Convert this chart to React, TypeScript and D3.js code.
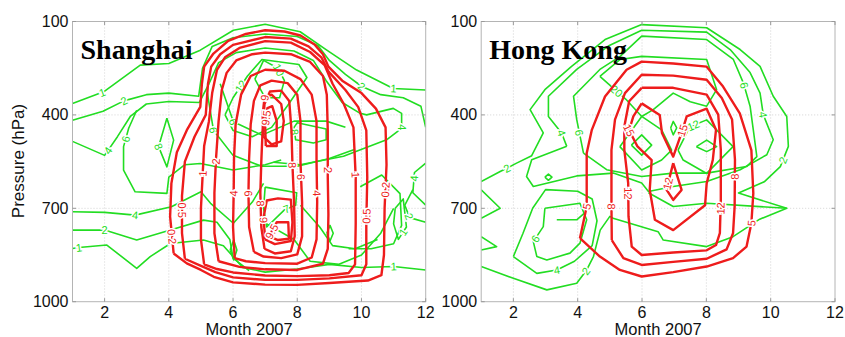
import React from 'react';
import * as d3 from 'd3';

type Pt = [number, number];
interface Contour { level: string; pts: Pt[]; labels?: Pt[] }

const monthTicks = [2, 4, 6, 8, 10, 12];
const pressureTicks = [100, 400, 700, 1000];
const gridMonths = [2, 4, 6, 8, 10];
const gridPressures = [400, 700];

// Shanghai: red contour lines (month, hPa)
const shanghaiRed: Contour[] = [
  { level: '0.2', labels: [[4.2, 790], [10.7, 640]], pts: [[4.15, 845], [4.04, 727], [4.08, 620], [4.25, 520], [4.56, 449], [4.98, 374], [5.03, 300], [5.1, 245], [5.39, 203], [5.85, 162], [6.4, 140], [7.0, 128], [7.6, 132], [8.1, 145], [8.55, 175], [8.8, 205], [8.97, 245], [9.4, 290], [10.0, 330], [10.45, 380], [10.75, 440], [10.78, 560], [10.72, 700], [10.7, 850], [10.62, 915], [10.2, 932], [9.0, 940], [8.0, 946], [7.0, 945], [6.0, 938], [5.4, 920], [5.0, 898], [4.56, 877], [4.15, 845]] },
  { level: '0.5', labels: [[4.41, 706], [10.16, 725]], pts: [[4.5, 862], [4.41, 780], [4.41, 660], [4.5, 550], [4.8, 470], [5.15, 400], [5.22, 300], [5.32, 245], [5.6, 205], [6.0, 175], [7.0, 150], [7.8, 155], [8.35, 180], [8.75, 215], [8.98, 262], [9.5, 320], [9.9, 375], [10.15, 450], [10.18, 600], [10.15, 750], [10.15, 880], [10.0, 915], [9.0, 925], [8.0, 930], [7.0, 930], [6.0, 922], [5.45, 905], [5.0, 885], [4.5, 862]] },
  { level: '1', labels: [[5.05, 588], [9.82, 593]], pts: [[5.1, 880], [5.0, 800], [5.0, 700], [5.05, 600], [5.1, 500], [5.25, 420], [5.35, 330], [5.5, 255], [5.75, 215], [6.2, 185], [7.0, 163], [7.8, 168], [8.4, 198], [8.85, 240], [9.1, 300], [9.45, 365], [9.75, 440], [9.82, 600], [9.82, 750], [9.8, 880], [9.6, 908], [9.0, 915], [8.0, 918], [7.0, 916], [6.0, 906], [5.5, 895], [5.1, 880]] },
  { level: '2', labels: [[5.46, 550], [8.95, 577]], pts: [[5.55, 870], [5.42, 780], [5.42, 650], [5.47, 540], [5.55, 420], [5.65, 320], [5.8, 265], [6.1, 225], [6.6, 205], [7.0, 200], [7.8, 205], [8.4, 230], [8.8, 275], [8.92, 335], [8.95, 450], [8.95, 600], [8.97, 720], [8.95, 830], [8.8, 878], [8.0, 898], [7.0, 896], [6.2, 888], [5.55, 870]] },
  { level: '4', labels: [[6.05, 652], [8.6, 652]], pts: [[6.05, 860], [6.0, 760], [6.02, 650], [6.03, 540], [6.08, 430], [6.25, 335], [6.55, 275], [7.0, 255], [7.6, 258], [8.1, 285], [8.45, 335], [8.6, 420], [8.6, 550], [8.62, 680], [8.6, 800], [8.45, 858], [8.0, 878], [7.0, 876], [6.4, 870], [6.05, 860]] },
  { level: '6', labels: [[6.5, 652], [8.08, 599]], pts: [[6.65, 840], [6.5, 760], [6.48, 650], [6.5, 540], [6.55, 430], [6.65, 355], [6.85, 305], [7.2, 290], [7.7, 298], [8.0, 335], [8.1, 420], [8.1, 550], [8.15, 680], [8.15, 790], [8.0, 848], [7.5, 860], [6.95, 855], [6.65, 840]] },
  { level: '8', labels: [[6.92, 684], [7.85, 561]], pts: [[6.98, 830], [6.88, 760], [6.85, 650], [6.88, 550], [6.92, 450], [6.98, 365], [7.15, 325], [7.5, 322], [7.75, 355], [7.82, 450], [7.85, 560], [7.9, 680], [7.92, 790], [7.8, 838], [7.3, 845], [6.98, 830]] },
  { level: '9', labels: [[6.95, 345]], pts: [[6.95, 470], [6.92, 400], [6.98, 345], [7.2, 335], [7.5, 365], [7.58, 420], [7.5, 485], [7.2, 495], [6.95, 470]] },
  { level: '9', labels: [[6.95, 738]], pts: [[7.0, 800], [6.95, 730], [7.05, 675], [7.4, 668], [7.8, 672], [7.85, 745], [7.8, 805], [7.3, 815], [7.0, 800]] },
  { level: '9.5', labels: [[7.05, 410]], pts: [[7.02, 500], [7.0, 430], [7.07, 378], [7.22, 372], [7.36, 420], [7.36, 500], [7.02, 500]] },
  { level: '9.5', labels: [[7.12, 770]], pts: [[7.12, 790], [7.36, 745], [7.72, 745], [7.74, 798], [7.4, 802], [7.12, 790]] },
];

// Shanghai: green contour lines (month, hPa)
const shanghaiGreen: Contour[] = [
  { level: '1', labels: [[1.92, 326], [11.0, 315]], pts: [[1, 363], [1.97, 326], [3.11, 240], [4.0, 235], [4.98, 192], [6.01, 128], [7.0, 109], [8.09, 133], [8.92, 192], [9.85, 256], [10.99, 315], [12, 320]] },
  { level: '2', labels: [[2.6, 355], [10.0, 308]], pts: [[1, 417], [1.95, 388], [2.6, 355], [3.3, 335], [4.0, 330], [4.93, 340], [5.05, 250], [5.35, 180], [6.0, 152], [7.0, 140], [8.0, 148], [8.65, 178], [9.0, 225], [9.5, 270], [10.0, 308], [10.6, 335], [11.3, 345], [11.85, 372], [12, 440]] },
  { level: '4', labels: [[2.05, 510], [11.2, 440]], pts: [[1, 485], [2.0, 530], [2.4, 470], [2.8, 405], [3.3, 365], [4.0, 357], [4.95, 360], [5.25, 300], [5.55, 232], [6.1, 200], [7.0, 185], [7.9, 195], [8.5, 225], [8.9, 290], [9.4, 360], [9.96, 395], [10.16, 400], [10.99, 379], [11.25, 395], [11.25, 443], [10.78, 480], [9.44, 533], [8.09, 560], [7.26, 552]] },
  { level: '6', labels: [[2.75, 480]], pts: [[3.0, 385], [2.75, 443], [2.59, 502], [2.59, 577], [2.95, 647], [3.94, 652], [4.0, 600], [4.5, 560], [4.98, 556], [6.0, 577], [7.0, 560], [7.5, 545]] },
  { level: '8', labels: [[3.68, 502]], pts: [[3.94, 411], [4.15, 481], [3.94, 567], [3.68, 502], [3.94, 411]] },
  { level: '12', labels: [[6.27, 310]], pts: [[5.75, 400], [6.0, 345], [6.45, 275], [6.9, 222], [8.05, 238], [8.3, 280], [7.7, 370], [7.2, 440], [6.6, 470], [6.0, 450], [5.75, 400]] },
  { level: '10', labels: [[7.3, 262]], pts: [[6.68, 285], [6.95, 225], [7.4, 250], [7.6, 290], [7.45, 345], [7.0, 345], [6.68, 285]] },
  { level: '6', labels: [[5.39, 449]], pts: [[5.2, 330], [5.39, 449], [6.0, 530], [6.9, 565], [8.0, 565], [9.0, 540], [9.8, 510]] },
  { level: '6', labels: [[6.01, 422]], pts: [[5.6, 300], [6.01, 422], [6.9, 465], [7.9, 420], [8.9, 420], [9.5, 440]] },
  { level: '8', labels: [[7.98, 454]], pts: [[7.9, 440], [8.0, 425], [8.9, 445], [8.9, 480], [8.5, 490], [7.95, 480], [7.9, 440]] },
  { level: '4', labels: [[2.95, 722]], pts: [[1, 711], [2.0, 713], [2.95, 722], [4.08, 695], [5.0, 647], [5.3, 684], [6.01, 748], [6.6, 680], [6.95, 620]] },
  { level: '2', labels: [[2.0, 770]], pts: [[1, 770], [2.0, 770], [3.0, 802], [4.05, 770], [5.08, 738], [5.5, 745], [5.9, 800], [6.0, 860], [6.5, 900]] },
  { level: '1', labels: [[1.2, 826], [11.0, 887]], pts: [[1, 829], [1.2, 826], [2.07, 818], [3.0, 893], [3.42, 855], [4.05, 813], [5.08, 802], [5.7, 820], [6.3, 890], [7.0, 905], [8.0, 895], [9.0, 880], [10.0, 890], [11.0, 887], [12, 898]] },
  { level: '7', labels: [[7.67, 703]], pts: [[7.0, 632], [7.98, 650], [7.95, 690], [7.6, 705], [7.05, 760], [6.95, 700], [7.0, 632]] },
  { level: '', pts: [[7.05, 750], [7.9, 800], [8.4, 870], [9.3, 880], [10.0, 850], [10.6, 780], [11.0, 700]] },
  { level: '', pts: [[8.1, 690], [8.7, 760], [9.1, 820], [9.8, 830], [10.5, 800]] },
  { level: '', pts: [[9.96, 631], [10.63, 593], [11.2, 653], [11.25, 755], [11.0, 814], [10.3, 830], [9.6, 830]] },
  { level: '', pts: [[5.91, 834], [6.02, 802], [6.12, 834], [6.02, 866], [5.91, 834]] },
  { level: '', pts: [[8.92, 780], [9.02, 755], [9.12, 780], [9.02, 805], [8.92, 780]] },
  { level: '4', labels: [[11.67, 604]], pts: [[12, 555], [11.65, 585], [11.6, 650], [12, 690]] },
  { level: '2', labels: [[11.46, 727]], pts: [[12, 745], [11.5, 730], [11.35, 690], [11.6, 640]] },
  { level: '1', labels: [[11.2, 770]], pts: [[11.05, 700], [11.3, 670], [11.4, 760], [11.15, 800], [11.0, 750], [11.05, 700]] },
];

// Hong Kong: red contour lines (month, hPa)
const hongKongRed: Contour[] = [
  { level: '5', labels: [[4.3, 694], [9.4, 748]], pts: [[4.07, 796], [4.28, 694], [4.28, 523], [4.44, 448], [4.85, 341], [5.52, 255], [5.99, 229], [6.97, 235], [8.01, 245], [8.52, 309], [9.04, 395], [9.4, 513], [9.46, 652], [9.4, 748], [9.25, 823], [8.83, 860], [8.01, 887], [6.97, 905], [5.99, 919], [5.31, 898], [4.69, 855], [4.07, 796]] },
  { level: '8', labels: [[5.05, 694], [8.88, 598]], pts: [[5.06, 802], [5.05, 694], [5.05, 512], [5.16, 415], [5.47, 330], [5.99, 271], [6.97, 274], [8.01, 287], [8.48, 346], [8.8, 415], [8.89, 544], [8.88, 694], [8.83, 780], [8.63, 832], [8.01, 862], [6.97, 872], [5.99, 882], [5.42, 860], [5.06, 802]] },
  { level: '12', labels: [[5.57, 652], [8.42, 700]], pts: [[5.99, 313], [6.97, 313], [8.01, 335], [8.37, 399], [8.45, 512], [8.45, 673], [8.42, 780], [8.3, 818], [8.01, 835], [6.97, 842], [5.99, 850], [5.68, 823], [5.58, 726], [5.57, 619], [5.45, 512], [5.45, 437], [5.6, 356], [5.99, 313]] },
  { level: '15', labels: [[5.6, 449], [7.34, 453]], pts: [[5.99, 363], [6.55, 400], [6.62, 458], [6.97, 534], [7.23, 458], [7.39, 405], [8.01, 380], [8.3, 448], [8.2, 545], [8.01, 620], [7.96, 690], [6.97, 770], [6.4, 737], [6.24, 641], [6.3, 545], [5.85, 500], [5.6, 449], [5.73, 405], [5.99, 363]] },
  { level: '12', labels: [[6.78, 620]], pts: [[6.97, 555], [6.76, 640], [6.97, 673], [7.23, 641], [6.97, 555]] },
];

// Hong Kong: green contour lines (month, hPa)
const hongKongGreen: Contour[] = [
  { level: '2', labels: [[1.74, 560], [10.5, 550], [4.3, 905]], pts: [[1, 614], [1.59, 582], [2.1, 555], [2.57, 531], [2.93, 458], [2.52, 383], [2.98, 319], [3.81, 244], [4.85, 158], [5.99, 110], [8.01, 120], [9.05, 190], [9.67, 244], [10.08, 340], [10.5, 405], [10.55, 501], [10.3, 566], [9.8, 615], [9.0, 651], [10.5, 700], [9.66, 735], [8.83, 791], [8.01, 823], [6.66, 802], [6.5, 775], [5.1, 732], [5.0, 726], [4.7, 770], [4.49, 855], [4.28, 898], [3.97, 941], [3.04, 962], [2.0, 925], [1.0, 887]] },
  { level: '4', labels: [[3.5, 458], [9.77, 399]], pts: [[3.66, 501], [3.5, 458], [3.09, 405], [3.09, 340], [3.97, 254], [4.95, 179], [5.99, 128], [8.01, 134], [8.74, 190], [9.36, 264], [9.67, 330], [9.77, 399], [10.08, 480], [9.88, 528], [9.05, 576], [8.01, 614], [6.97, 630], [6.2, 646], [5.99, 619], [5.11, 587], [3.97, 596], [2.62, 630], [2.41, 598], [2.57, 544], [3.66, 501]] },
  { level: '6', labels: [[4.02, 458], [9.25, 303]], pts: [[4.18, 523], [3.97, 415], [3.87, 340], [4.69, 254], [5.32, 212], [5.99, 147], [8.01, 158], [8.84, 222], [9.15, 297], [9.36, 372], [9.46, 448], [9.57, 534], [9.25, 566], [8.01, 587], [6.97, 587], [5.99, 598], [4.9, 576], [4.18, 523]] },
  { level: '20', labels: [[5.42, 299]], pts: [[4.69, 276], [5.32, 222], [5.99, 212], [8.01, 222], [8.32, 319], [8.01, 372], [7.5, 358], [6.97, 330], [6.35, 383], [5.99, 405], [5.5, 350], [4.69, 276]] },
  { level: '', pts: [[5.31, 502], [5.99, 405], [6.61, 448], [6.92, 513], [6.61, 545], [5.99, 577], [5.31, 502]] },
  { level: '12', labels: [[7.54, 420]], pts: [[7.12, 513], [7.49, 438], [8.01, 416], [8.83, 502], [8.01, 588], [7.28, 545], [7.12, 513]] },
  { level: '', pts: [[5.67, 497], [5.99, 464], [6.3, 497], [5.99, 529], [5.67, 497]] },
  { level: '', pts: [[7.69, 502], [8.01, 481], [8.32, 502], [8.01, 518], [7.69, 502]] },
  { level: '', pts: [[6.89, 442], [6.97, 421], [7.08, 442], [6.97, 464], [6.89, 442]] },
  { level: '', pts: [[2.98, 600], [3.09, 590], [3.2, 600], [3.09, 610], [2.98, 600]] },
  { level: '', pts: [[6.2, 650], [6.97, 694], [8.01, 684], [10.5, 700]] },
  { level: '6', labels: [[2.73, 801]], pts: [[2.98, 700], [4.07, 684], [4.28, 737], [4.07, 812], [3.76, 844], [3.04, 866], [2.73, 855], [2.62, 807], [2.93, 759], [2.98, 700]] },
  { level: '4', labels: [[3.35, 898]], pts: [[2.0, 855], [2.73, 909], [3.35, 898], [3.9, 870], [4.45, 820], [4.6, 740], [4.45, 670], [4.0, 645], [3.0, 640], [2.6, 700], [2.3, 780], [2.0, 855]] },
  { level: '', pts: [[3.35, 737], [3.97, 737], [4.2, 716]] },
  { level: '', pts: [[1.0, 641], [1.59, 700], [1.0, 732]] },
  { level: '', pts: [[1.0, 791], [1.48, 823], [1.0, 834]] },
];

const RED = '#ee1c1c';
const GREEN = '#22dd22';
const SANS = 'Liberation Sans, Arial, sans-serif';

interface PanelProps {
  id: string;
  title: string;
  left: number;
  right: number;
  red: Contour[];
  green: Contour[];
}

const TOP = 21.5;
const BOTTOM = 301.7;

type Scale = d3.ScaleLinear<number, number>;

// Put a contour label on the nearest point of its line, turned along the line.
function snapLabel(pts: Pt[], target: Pt, x: Scale, y: Scale) {
  const tx = x(target[0]);
  const ty = y(target[1]);
  let best = { d: Infinity, px: tx, py: ty, ang: 0 };
  for (let i = 0; i < pts.length - 1; i++) {
    const ax = x(pts[i][0]), ay = y(pts[i][1]);
    const bx = x(pts[i + 1][0]), by = y(pts[i + 1][1]);
    const dx = bx - ax, dy = by - ay;
    const len2 = dx * dx + dy * dy || 1;
    let t = ((tx - ax) * dx + (ty - ay) * dy) / len2;
    t = Math.max(0, Math.min(1, t));
    const px = ax + t * dx, py = ay + t * dy;
    const d = (px - tx) ** 2 + (py - ty) ** 2;
    if (d < best.d) {
      let ang = (Math.atan2(dy, dx) * 180) / Math.PI;
      if (ang > 90) ang -= 180;
      if (ang <= -90) ang += 180;
      best = { d, px, py, ang };
    }
  }
  return best;
}

function Panel({ id, title, left, right, red, green }: PanelProps) {
  const x = d3.scaleLinear().domain([1, 12]).range([left, right]);
  const y = d3.scaleLinear().domain([100, 1000]).range([TOP, BOTTOM]);
  const line = d3.line<Pt>().x((d) => x(d[0])).y((d) => y(d[1]));
  const clipId = `clip-${id}`;

  const drawSet = (set: Contour[], color: string, width: number) => (
    <g>
      {set.map((c, i) => (
        <path key={i} d={line(c.pts) ?? ''} fill="none" stroke={color} strokeWidth={width} strokeLinejoin="round" />
      ))}
      {set.map((c, i) =>
        (c.labels ?? []).map((lb, j) => {
          const s = snapLabel(c.pts, lb, x, y);
          return (
            <text
              key={`${i}-${j}`}
              transform={`translate(${s.px},${s.py}) rotate(${s.ang})`}
              textAnchor="middle"
              dominantBaseline="central"
              fontFamily={SANS}
              fontSize={11}
              fill={color}
              stroke="white"
              strokeWidth={3}
              paintOrder="stroke"
            >
              {c.level}
            </text>
          );
        })
      )}
    </g>
  );

  return (
    <g>
      <defs>
        <clipPath id={clipId}>
          <rect x={left} y={TOP} width={right - left} height={BOTTOM - TOP} />
        </clipPath>
      </defs>
      <rect x={left} y={TOP} width={right - left} height={BOTTOM - TOP} fill="white" />
      {gridMonths.map((m) => (
        <line key={`gx${m}`} x1={x(m)} x2={x(m)} y1={TOP} y2={BOTTOM} stroke="#c8c8c8" strokeWidth={0.8} strokeDasharray="1,2" />
      ))}
      {gridPressures.map((p) => (
        <line key={`gy${p}`} x1={left} x2={right} y1={y(p)} y2={y(p)} stroke="#c8c8c8" strokeWidth={0.8} strokeDasharray="1,2" />
      ))}
      <g clipPath={`url(#${clipId})`}>
        {drawSet(green, GREEN, 1.6)}
        {drawSet(red, RED, 2.4)}
      </g>
      <rect x={left} y={TOP} width={right - left} height={BOTTOM - TOP} fill="none" stroke="#b4b4b4" strokeWidth={1} />
      {monthTicks.map((m) => (
        <g key={`tx${m}`}>
          <line x1={x(m)} x2={x(m)} y1={BOTTOM} y2={BOTTOM - 3.5} stroke="#999" />
          <line x1={x(m)} x2={x(m)} y1={TOP} y2={TOP + 3.5} stroke="#999" />
          <text x={x(m)} y={317.5} textAnchor="middle" fontFamily={SANS} fontSize={16} fill="#111">
            {m}
          </text>
        </g>
      ))}
      {pressureTicks.map((p) => (
        <g key={`ty${p}`}>
          <line x1={left} x2={left + 3.5} y1={y(p)} y2={y(p)} stroke="#999" />
          <line x1={right} x2={right - 3.5} y1={y(p)} y2={y(p)} stroke="#999" />
          <text x={left - 4} y={y(p)} textAnchor="end" dominantBaseline="central" fontFamily={SANS} fontSize={16} fill="#111">
            {p}
          </text>
        </g>
      ))}
      <text x={(left + right) / 2} y={334.5} textAnchor="middle" fontFamily={SANS} fontSize={16.5} fill="#111">
        Month 2007
      </text>
      <text x={left + 8} y={59} fontFamily="Liberation Serif, Times New Roman, serif" fontWeight="bold" fontSize={28} fill="#000">
        {title}
      </text>
    </g>
  );
}

export default function App() {
  return (
    <svg width={845} height={337} style={{ position: 'absolute', left: 0, top: 0, background: 'white' }}>
      <rect width={845} height={337} fill="white" />
      <Panel id="sh" title="Shanghai" left={72.5} right={425.7} red={shanghaiRed} green={shanghaiGreen} />
      <Panel id="hk" title="Hong Kong" left={481.2} right={835} red={hongKongRed} green={hongKongGreen} />
      <text transform="translate(24,161) rotate(-90)" textAnchor="middle" fontFamily={SANS} fontSize={17} fill="#111">
        Pressure (hPa)
      </text>
    </svg>
  );
}
